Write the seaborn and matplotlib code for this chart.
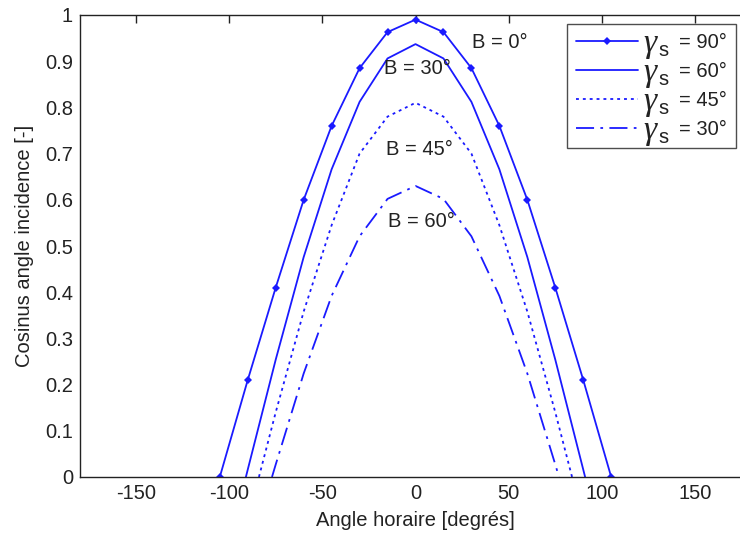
import pandas as pd
import seaborn as sns
import matplotlib.pyplot as plt

# Hour angle [deg] and cosine of incidence angle
omega_90 = [-105, -90, -75, -60, -45, -30, -15, 0, 15, 30, 45, 60, 75, 90, 105]
cos_90 = [0.0, 0.21, 0.41, 0.60, 0.76, 0.885, 0.963, 0.99, 0.963, 0.885, 0.76, 0.60, 0.41, 0.21, 0.0]

omega_60 = [-91, -90, -75, -60, -45, -30, -15, 0, 15, 30, 45, 60, 75, 90, 91]
cos_60 = [0.0, 0.016, 0.254, 0.476, 0.666, 0.812, 0.906, 0.937, 0.906, 0.812, 0.666, 0.476, 0.254, 0.016, 0.0]

omega_45 = [-84, -75, -60, -45, -30, -15, 0, 15, 30, 45, 60, 75, 84]
cos_45 = [0.0, 0.14, 0.358, 0.545, 0.70, 0.78, 0.81, 0.78, 0.70, 0.545, 0.358, 0.14, 0.0]

omega_30 = [-77, -75, -60, -45, -30, -15, 0, 15, 30, 45, 60, 75, 77]
cos_30 = [0.0, 0.027, 0.224, 0.392, 0.521, 0.602, 0.63, 0.602, 0.521, 0.392, 0.224, 0.027, 0.0]

labels = ['90°', '60°', '45°', '30°']

# tilt labels
b_labels = ['B = 0°', 'B = 30°', 'B = 45°', 'B = 60°']
b_x = [30.5, -17, -16, -14.5]
b_y = [0.94, 0.885, 0.708, 0.552]

sns.set_theme(style='white')
plt.rcParams['font.family'] = ['Liberation Sans', 'DejaVu Sans']
plt.rcParams['axes.unicode_minus'] = False

fs = 14.5
dark = '#222222'

fig = plt.figure(figsize=(7.4, 5.36), dpi=100)
ax = fig.add_axes([80 / 740, 59 / 536, 671 / 740, 462 / 536])

blue = '#1a1aff'
series = [
    (omega_90, cos_90, '-', 'D'),
    (omega_60, cos_60, '-', None),
    (omega_45, cos_45, (0, (1.6, 2.2)), None),
    (omega_30, cos_30, (0, (10, 3.5, 1.5, 3.5)), None),
]
for (om, cs, ls, mk), lab in zip(series, labels):
    df = pd.DataFrame({'omega': om, 'cos': cs})
    sns.lineplot(data=df, x='omega', y='cos', ax=ax, color=blue, linewidth=1.3,
                 linestyle=ls, marker=mk, markersize=4.5, markeredgewidth=0,
                 sort=False, estimator=None, label='= ' + lab)

for t, x, y in zip(b_labels, b_x, b_y):
    ax.text(x, y, t, fontsize=fs, color=dark, ha='left', va='center')

ax.set_xlim(-180, 180)
ax.set_ylim(0, 1)
ax.set_xticks([-150, -100, -50, 0, 50, 100, 150])
ax.set_yticks([0, 0.1, 0.2, 0.3, 0.4, 0.5, 0.6, 0.7, 0.8, 0.9, 1])
ax.set_yticklabels(['0', '0.1', '0.2', '0.3', '0.4', '0.5', '0.6', '0.7', '0.8', '0.9', '1'])
ax.tick_params(direction='in', length=5.5, width=1.0, top=True, right=True,
               labelsize=fs, labelcolor=dark, color=dark, pad=5)
for s in ax.spines.values():
    s.set_color(dark)
    s.set_linewidth(1.0)

ax.set_xlabel('Angle horaire [degrés]', fontsize=fs, color=dark, labelpad=6)
ax.set_ylabel('Cosinus angle incidence [-]', fontsize=fs, color=dark, labelpad=8)

leg = ax.legend(loc='upper right', bbox_to_anchor=(0.978, 0.9805), borderaxespad=0,
                fancybox=False, frameon=True, fontsize=fs, handlelength=3.08,
                labelspacing=0.5, handletextpad=2.04, borderpad=0.45)
leg.get_frame().set_edgecolor(dark)
leg.get_frame().set_linewidth(1.0)
for t in leg.get_texts():
    t.set_color(dark)

# large gamma_s symbols between the legend handles and texts
fig.canvas.draw()
for t in leg.get_texts():
    bb = t.get_window_extent()
    yg = (bb.y0 + bb.y1) / 2 / 536
    fig.text((bb.x0 - 36) / 740, yg - 1 / 536, 'γ', family='Liberation Serif', style='italic',
             fontsize=24, color=dark, ha='left', va='center')
    fig.text((bb.x0 - 21) / 740, yg - 8 / 536, 's', fontsize=fs, color=dark,
             ha='left', va='center')

fig.savefig('out.png', dpi=100)
